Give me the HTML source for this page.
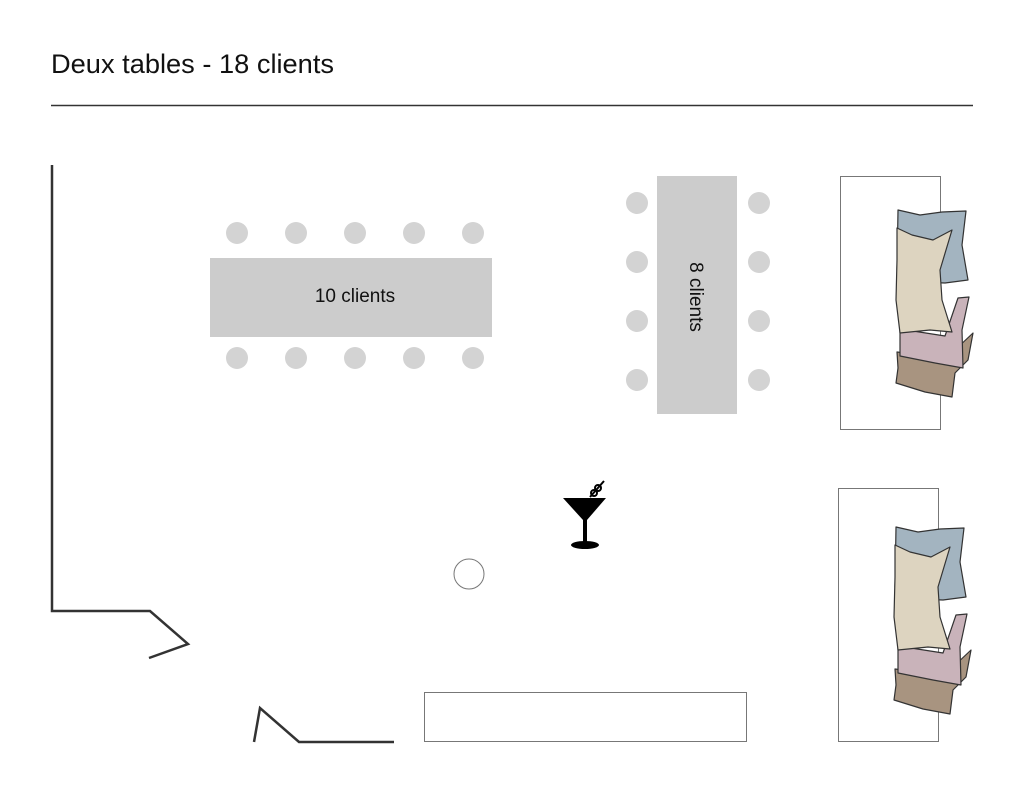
<!DOCTYPE html>
<html><head><style>body{margin:0;background:#fff}svg{display:block}</style></head><body>
<svg width="1024" height="791" viewBox="0 0 1024 791" xmlns="http://www.w3.org/2000/svg" font-family="Liberation Sans, sans-serif">
<text x="51" y="73" font-size="27" textLength="283" lengthAdjust="spacingAndGlyphs" fill="#111">Deux tables - 18 clients</text>
<line x1="51" y1="105.5" x2="973" y2="105.5" stroke="#333" stroke-width="1.5"/>
<g stroke="#333" stroke-width="2.5" fill="none">
<polyline points="52,165 52,611 150,611 188,644 149,658"/>
<polyline points="254,742 260,708 299,742 394,742"/>
</g>
<rect x="210" y="258" width="282" height="79" fill="#cccccc"/>
<text x="355" y="302" font-size="19" text-anchor="middle" fill="#111">10 clients</text>
<g fill="#d3d3d3">
<circle cx="237" cy="233" r="11"/><circle cx="296" cy="233" r="11"/><circle cx="355" cy="233" r="11"/><circle cx="414" cy="233" r="11"/><circle cx="473" cy="233" r="11"/>
<circle cx="237" cy="358" r="11"/><circle cx="296" cy="358" r="11"/><circle cx="355" cy="358" r="11"/><circle cx="414" cy="358" r="11"/><circle cx="473" cy="358" r="11"/>
<circle cx="637" cy="203" r="11"/><circle cx="637" cy="262" r="11"/><circle cx="637" cy="321" r="11"/><circle cx="637" cy="380" r="11"/>
<circle cx="759" cy="203" r="11"/><circle cx="759" cy="262" r="11"/><circle cx="759" cy="321" r="11"/><circle cx="759" cy="380" r="11"/>
</g>
<rect x="657" y="176" width="80" height="238" fill="#cccccc"/>
<text x="0" y="0" font-size="19" text-anchor="middle" fill="#111" transform="translate(690,297) rotate(90)">8 clients</text>
<circle cx="469" cy="574" r="15" fill="#fff" stroke="#777" stroke-width="1"/>
<rect x="424.5" y="692.5" width="322" height="49" fill="#fff" stroke="#777"/>
<g>
<polygon points="563,498 606,498 587,520 583,520" fill="#000"/>
<rect x="583" y="518" width="4" height="26" fill="#000"/>
<ellipse cx="585" cy="545" rx="14" ry="4" fill="#000"/>
<line x1="590" y1="497" x2="604" y2="481" stroke="#000" stroke-width="2"/>
<circle cx="594" cy="493" r="3" fill="none" stroke="#000" stroke-width="2"/>
<circle cx="598" cy="488" r="3" fill="none" stroke="#000" stroke-width="2"/>
</g>
<defs>
<g id="pillows" stroke="#333" stroke-width="1.2" stroke-linejoin="round">
<path d="M897,352 L945,358 L955,350 L973,333 L968,360 L955,373 L952,397 L925,392 L896,383 L898,368 Z" fill="#a89480"/>
<path d="M900,329 L945,336 L958,298 L969,297 L962,330 L963,368 L935,363 L900,356 Z" fill="#c9b3ba"/>
<path d="M898,210 L920,215 L942,212 L966,211 L962,245 L968,280 L945,283 L918,282 L897,270 Z" fill="#a3b4c0"/>
<path d="M897,228 L912,235 L933,240 L952,230 L940,270 L942,300 L952,332 L930,330 L900,333 L896,300 L897,260 Z" fill="#ddd4c0"/>
</g>
</defs>
<rect x="840.5" y="176.5" width="100" height="253" fill="#fff" stroke="#777"/>
<use href="#pillows"/>
<rect x="838.5" y="488.5" width="100" height="253" fill="#fff" stroke="#777"/>
<use href="#pillows" transform="translate(-2,317)"/>
</svg>
</body></html>
